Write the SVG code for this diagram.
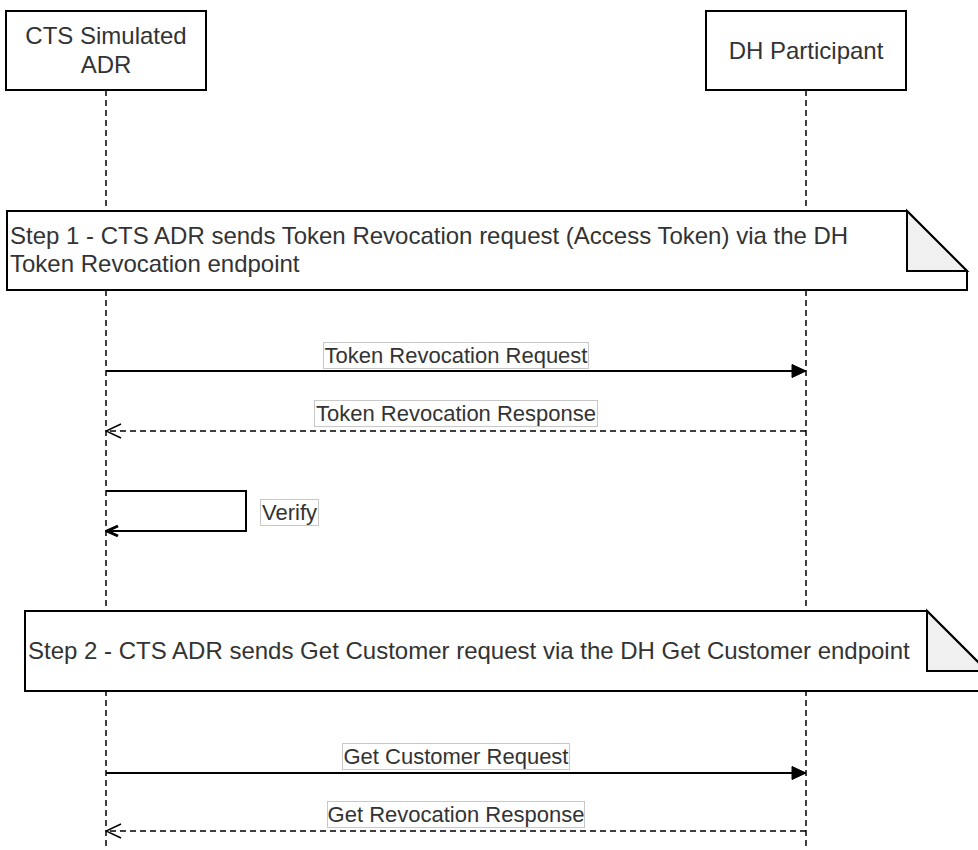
<svg xmlns="http://www.w3.org/2000/svg" width="978" height="850" viewBox="0 0 978 850">
  <style>
    .box { fill: #ffffff; stroke: #000000; stroke-width: 2; }
    .life { fill: none; stroke: #000000; stroke-width: 1.5; stroke-dasharray: 6 4; }
    .txt { font-family: "Liberation Sans", Arial, Helvetica, sans-serif; fill: #333333; }
    .hdr { font-size: 24px; text-anchor: middle; }
    .note { font-size: 24px; }
    .lbl { font-size: 22px; text-anchor: middle; }
    .lblbox { fill: #ffffff; stroke: #c8c8c8; stroke-width: 1; }
    .msg { fill: none; stroke: #000000; stroke-width: 2; }
    .ret { fill: none; stroke: #000000; stroke-width: 1.5; stroke-dasharray: 6 4; }
    .fold { fill: #f0f0f0; stroke: #000000; stroke-width: 2; stroke-linejoin: miter; }
  </style>
  <defs>
    <marker id="block" markerUnits="userSpaceOnUse" markerWidth="16" markerHeight="16" viewBox="0 0 16 16" refX="15" refY="8" orient="auto">
      <path d="M1,1.5 L15,8 L1,14.5 Z" fill="#000000" stroke="#000000" stroke-width="1"/>
    </marker>
    <marker id="open" markerUnits="userSpaceOnUse" markerWidth="18" markerHeight="18" viewBox="0 0 18 18" refX="17" refY="9" orient="auto">
      <path d="M2,2 L17,9 L2,16" fill="none" stroke="#000000" stroke-width="1.5"/>
    </marker>
    <marker id="openBold" markerUnits="userSpaceOnUse" markerWidth="16" markerHeight="16" viewBox="0 0 16 16" refX="14" refY="8" orient="auto">
      <path d="M3,3 L14,8 L3,13" fill="none" stroke="#000000" stroke-width="3"/>
    </marker>
  </defs>

  <g id="lifelines">
    <line class="life" x1="106" y1="90" x2="106" y2="850"/>
    <line class="life" x1="806" y1="90" x2="806" y2="850"/>
  </g>

  <g id="actor-cts">
    <rect class="box" x="6" y="11" width="200" height="79"/>
    <text class="txt hdr" x="106" y="44">CTS Simulated</text>
    <text class="txt hdr" x="106" y="73">ADR</text>
  </g>

  <g id="actor-dh">
    <rect class="box" x="706" y="11" width="200" height="79"/>
    <text class="txt hdr" x="806" y="59">DH Participant</text>
  </g>

  <g id="note-step1">
    <path class="box" d="M7,211 H907 L967,271 V290 H7 Z"/>
    <path class="fold" d="M907,211 V271 H967 Z"/>
    <text class="txt note" x="10" y="243.5">Step 1 - CTS ADR sends Token Revocation request (Access Token) via the DH</text>
    <text class="txt note" x="10" y="272">Token Revocation endpoint</text>
  </g>

  <g id="note-step2">
    <path class="box" d="M25,611 H927 L987,671 V691 H25 Z"/>
    <path class="fold" d="M927,611 V671 H987 Z"/>
    <text class="txt note" x="28" y="659">Step 2 - CTS ADR sends Get Customer request via the DH Get Customer endpoint</text>
  </g>

  <g id="connectors">
    <line class="msg" x1="106" y1="371" x2="806" y2="371" marker-end="url(#block)"/>
    <line class="ret" x1="806" y1="431" x2="106" y2="431" marker-end="url(#open)"/>
    <path class="msg" d="M106,491 H246 V531 H107" marker-end="url(#openBold)"/>
    <line class="msg" x1="106" y1="773" x2="806" y2="773" marker-end="url(#block)"/>
    <line class="ret" x1="806" y1="831" x2="106" y2="831" marker-end="url(#open)"/>
  </g>

  <g id="labels">
    <rect class="lblbox" x="323.5" y="342.5" width="265" height="26"/>
    <text class="txt lbl" x="456" y="363">Token Revocation Request</text>

    <rect class="lblbox" x="314.5" y="400.5" width="283" height="26"/>
    <text class="txt lbl" x="456" y="421">Token Revocation Response</text>

    <rect class="lblbox" x="260.5" y="499.5" width="58" height="26"/>
    <text class="txt" style="font-size:22px" x="262" y="520">Verify</text>

    <rect class="lblbox" x="342.5" y="743.5" width="227" height="26"/>
    <text class="txt lbl" x="456" y="764">Get Customer Request</text>

    <rect class="lblbox" x="327.5" y="801.5" width="257" height="26"/>
    <text class="txt lbl" x="456" y="822">Get Revocation Response</text>
  </g>
</svg>
